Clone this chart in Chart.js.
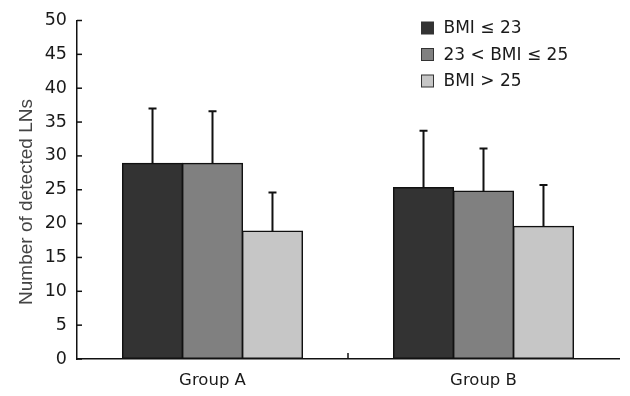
<!DOCTYPE html>
<html>
<head>
<meta charset="utf-8">
<script src="https://cdn.jsdelivr.net/npm/chart.js@4.4.1/dist/chart.umd.min.js"></script>
<style>
  html, body { margin: 0; padding: 0; background: #ffffff; }
  #wrap { width: 630px; height: 396px; position: relative; }
</style>
</head>
<body>
<div id="wrap"><canvas id="c" width="630" height="396"></canvas></div>
<script>
const categories = ['Group A', 'Group B'];
const seriesLabels = ['BMI \u2264 23', '23 < BMI \u2264 25', 'BMI > 25'];
const bmiLow = [28.9, 25.3];
const bmiMid = [28.9, 24.8];
const bmiHigh = [18.9, 19.6];
const sdLow = [8.1, 8.4];
const sdMid = [7.7, 6.3];
const sdHigh = [5.7, 6.1];
const yTicks = [0, 5, 10, 15, 20, 25, 30, 35, 40, 45, 50];
const yTitle = 'Number of detected LNs';

const colors = ['#333333', '#808080', '#c6c6c6'];
const sds = [sdLow, sdMid, sdHigh];

const errorBars = {
  id: 'errorBars',
  afterDatasetsDraw(chart) {
    const ctx = chart.ctx;
    const y = chart.scales.y;
    ctx.save();
    ctx.strokeStyle = '#111';
    ctx.lineWidth = 2;
    chart.data.datasets.forEach((ds, i) => {
      const meta = chart.getDatasetMeta(i);
      meta.data.forEach((el, j) => {
        const top = y.getPixelForValue(ds.data[j] + sds[i][j]);
        ctx.beginPath();
        ctx.moveTo(el.x, el.y);
        ctx.lineTo(el.x, top);
        ctx.moveTo(el.x - 4, top);
        ctx.lineTo(el.x + 4, top);
        ctx.stroke();
      });
    });
    ctx.restore();
  }
};

const axisDecor = {
  id: 'axisDecor',
  afterDraw(chart) {
    const ctx = chart.ctx;
    const x = chart.scales.x;
    const y = chart.scales.y;
    const area = chart.chartArea;
    ctx.save();
    ctx.strokeStyle = '#111';
    ctx.lineWidth = 1.5;
    y.ticks.forEach((t, i) => {
      const py = y.getPixelForTick(i);
      ctx.beginPath();
      ctx.moveTo(area.left, py);
      ctx.lineTo(area.left + 5, py);
      ctx.stroke();
    });
    for (let i = 0; i < categories.length - 1; i++) {
      const px = (x.getPixelForValue(i) + x.getPixelForValue(i + 1)) / 2;
      ctx.beginPath();
      ctx.moveTo(px, area.bottom);
      ctx.lineTo(px, area.bottom - 6);
      ctx.stroke();
    }
    ctx.fillStyle = '#444';
    ctx.font = '19px "Liberation Sans", Arial, sans-serif';
    ctx.textAlign = 'center';
    ctx.textBaseline = 'middle';
    ctx.translate(27, 202);
    ctx.rotate(-Math.PI / 2);
    ctx.fillText(yTitle, 0, 0);
    ctx.restore();

    ctx.save();
    ctx.font = '17px "DejaVu Sans", Verdana, sans-serif';
    ctx.textBaseline = 'middle';
    ctx.textAlign = 'left';
    const rowY = [28, 54.5, 81];
    chart.data.datasets.forEach((ds, i) => {
      const cy = rowY[i];
      ctx.fillStyle = ds.backgroundColor;
      ctx.fillRect(421.5, cy - 6, 12, 12);
      ctx.strokeStyle = '#333';
      ctx.lineWidth = 1;
      ctx.strokeRect(421.5, cy - 6, 12, 12);
      ctx.fillStyle = '#1a1a1a';
      ctx.fillText(ds.label, 443.5, cy + 1);
    });
    ctx.restore();
  }
};

const datasets = [bmiLow, bmiMid, bmiHigh].map((d, i) => ({
  label: seriesLabels[i],
  data: d,
  backgroundColor: colors[i],
  borderColor: '#111',
  borderWidth: 1.5,
  borderSkipped: false,
  inflateAmount: 0.6,
  categoryPercentage: 0.664,
  barPercentage: 1.0
}));

new Chart(document.getElementById('c'), {
  type: 'bar',
  data: { labels: categories, datasets },
  options: {
    responsive: false,
    animation: false,
    devicePixelRatio: 1,
    layout: { padding: { left: 0, top: 19, right: 11, bottom: 0 } },
    plugins: { legend: { display: false }, tooltip: { enabled: false } },
    scales: {
      x: {
        grid: { display: false },
        border: { display: true, color: '#111', width: 1.5 },
        ticks: {
          color: '#1a1a1a',
          font: { family: '"DejaVu Sans", Verdana, sans-serif', size: 16.5 },
          padding: 4
        },
        afterFit(s) { s.height = 37; }
      },
      y: {
        min: 0, max: 50,
        afterBuildTicks(s) { s.ticks = yTicks.map(v => ({ value: v })); },
        grid: { display: true, drawOnChartArea: false, drawTicks: false, tickLength: 0 },
        border: { display: true, color: '#111', width: 1.5 },
        ticks: {
          color: '#1a1a1a',
          font: { family: '"DejaVu Sans", Verdana, sans-serif', size: 17.5 },
          padding: 10
        },
        afterFit(s) { s.width = 77; }
      }
    }
  },
  plugins: [errorBars, axisDecor]
});
</script>
</body>
</html>
